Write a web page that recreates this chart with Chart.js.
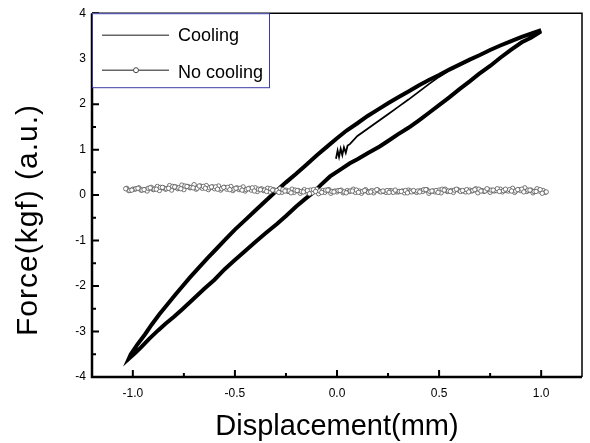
<!DOCTYPE html>
<html>
<head>
<meta charset="utf-8">
<script src="https://cdn.jsdelivr.net/npm/chart.js@4"></script>
<style>
  html, body { margin: 0; padding: 0; background: #fff; }
  #wrap { width: 590px; height: 443px; }
</style>
</head>
<body>
<div id="wrap"><canvas id="forceChart" width="590" height="443"></canvas></div>
<script>
// tick labels
const xTicks = [-1.0, -0.5, 0.0, 0.5, 1.0];
const xMinorTicks = [-0.75, -0.25, 0.25, 0.75];
const yTicks = [-4, -3, -2, -1, 0, 1, 2, 3, 4];
const yMinorTicks = [-3.5, -2.5, -1.5, -0.5, 0.5, 1.5, 2.5, 3.5];
const seriesNames = ['Cooling', 'No cooling'];

// cooling: hysteresis loop (top tip -> lower branch -> bottom tip -> upper branch -> top tip)
const coolingLoop = [
  [1.00,3.60],[0.95,3.46],[0.905,3.36],[0.85,3.19],[0.80,3.02],[0.75,2.84],[0.694,2.66],[0.65,2.50],
  [0.60,2.33],[0.55,2.15],[0.50,1.98],[0.451,1.81],[0.40,1.64],[0.35,1.48],[0.30,1.34],[0.25,1.19],
  [0.209,1.07],[0.15,0.92],[0.10,0.79],[0.063,0.70],[0.02,0.57],[-0.034,0.41],[-0.08,0.22],[-0.115,0.06],
  [-0.16,-0.10],[-0.20,-0.25],[-0.25,-0.46],[-0.293,-0.63],[-0.35,-0.84],[-0.40,-1.03],[-0.45,-1.23],
  [-0.503,-1.44],[-0.55,-1.63],[-0.60,-1.86],[-0.65,-2.06],[-0.714,-2.33],[-0.76,-2.52],[-0.80,-2.68],
  [-0.84,-2.83],[-0.875,-2.97],[-0.92,-3.16],[-0.96,-3.35],[-0.99,-3.48],[-1.02,-3.60],
  [-1.01,-3.50],[-0.98,-3.30],[-0.94,-3.06],[-0.908,-2.85],[-0.87,-2.62],[-0.83,-2.40],[-0.79,-2.18],
  [-0.762,-2.03],[-0.72,-1.81],[-0.68,-1.61],[-0.633,-1.38],[-0.59,-1.18],[-0.55,-0.99],[-0.50,-0.76],
  [-0.45,-0.55],[-0.40,-0.34],[-0.35,-0.13],[-0.30,0.08],[-0.25,0.28],[-0.20,0.47],[-0.15,0.67],
  [-0.10,0.87],[-0.05,1.06],[0.00,1.25],[0.047,1.42],[0.10,1.58],[0.15,1.74],[0.20,1.88],[0.25,2.02],
  [0.30,2.15],[0.35,2.28],[0.40,2.41],[0.45,2.53],[0.50,2.64],[0.55,2.76],[0.60,2.87],[0.65,2.98],
  [0.70,3.08],[0.75,3.19],[0.80,3.29],[0.85,3.38],[0.905,3.48],[0.95,3.55],[1.00,3.63]
];

// cooling: first loading from rest (jagged start near x = 0)
const coolingStart = [
  [-0.005,0.80],[0.003,0.98],[0.010,0.84],[0.018,1.02],[0.026,0.88],[0.034,1.05],[0.043,0.93],
  [0.052,1.09],[0.063,1.12],[0.10,1.30],[0.15,1.46],[0.20,1.62],[0.25,1.78],[0.30,1.94],
  [0.35,2.10],[0.40,2.27],[0.45,2.44],[0.50,2.60],[0.55,2.74]
];

// no cooling: four passes across the stroke
const noCoolingA = [
  [-1.03,0.15],[-1.00,0.13],[-0.97,0.16],[-0.94,0.12],[-0.91,0.17],[-0.88,0.19],[-0.85,0.16],[-0.82,0.21],
  [-0.79,0.18],[-0.76,0.22],[-0.73,0.19],[-0.70,0.23],[-0.67,0.20],[-0.64,0.21],[-0.61,0.18],[-0.58,0.20],
  [-0.55,0.17],[-0.52,0.19],[-0.49,0.16],[-0.46,0.18],[-0.43,0.15],[-0.40,0.16],[-0.37,0.14],[-0.34,0.15],
  [-0.31,0.12],[-0.28,0.14],[-0.25,0.11],[-0.22,0.13],[-0.19,0.10],[-0.16,0.12],[-0.13,0.11],[-0.10,0.13],
  [-0.07,0.10],[-0.04,0.12],[-0.01,0.09],[0.02,0.11],[0.05,0.10],[0.08,0.13],[0.11,0.09],[0.14,0.12],
  [0.17,0.10],[0.20,0.11],[0.23,0.08],[0.26,0.10],[0.29,0.07],[0.32,0.09],[0.35,0.11],[0.38,0.08],
  [0.41,0.10],[0.44,0.12],[0.47,0.09],[0.50,0.11],[0.53,0.13],[0.56,0.10],[0.59,0.12],[0.62,0.09],
  [0.65,0.11],[0.68,0.14],[0.71,0.10],[0.74,0.12],[0.77,0.09],[0.80,0.13],[0.83,0.10],[0.86,0.15],
  [0.89,0.12],[0.92,0.16],[0.95,0.11],[0.98,0.14],[1.01,0.10]
];
const noCoolingB = [
  [1.02,0.06],[0.99,0.09],[0.96,0.05],[0.93,0.08],[0.90,0.10],[0.87,0.06],[0.84,0.09],[0.81,0.07],
  [0.78,0.10],[0.75,0.06],[0.72,0.08],[0.69,0.05],[0.66,0.09],[0.63,0.07],[0.60,0.10],[0.57,0.06],
  [0.54,0.08],[0.51,0.05],[0.48,0.07],[0.45,0.04],[0.42,0.08],[0.39,0.06],[0.36,0.09],[0.33,0.05],
  [0.30,0.07],[0.27,0.09],[0.24,0.06],[0.21,0.08],[0.18,0.05],[0.15,0.07],[0.12,0.04],[0.09,0.06],
  [0.06,0.08],[0.03,0.05],[0.00,0.07],[-0.03,0.04],[-0.06,0.06],[-0.09,0.03],[-0.12,0.05],[-0.15,0.07],
  [-0.18,0.04],[-0.21,0.06],[-0.24,0.08],[-0.27,0.06],[-0.30,0.09],[-0.33,0.07],[-0.36,0.10],[-0.39,0.08],
  [-0.42,0.11],[-0.45,0.09],[-0.48,0.12],[-0.51,0.10],[-0.54,0.13],[-0.57,0.11],[-0.60,0.14],[-0.63,0.12],
  [-0.66,0.15],[-0.69,0.13],[-0.72,0.16],[-0.75,0.12],[-0.78,0.14],[-0.81,0.11],[-0.84,0.13],[-0.87,0.10],
  [-0.90,0.12],[-0.93,0.09],[-0.96,0.11],[-0.99,0.13],[-1.02,0.10]
];
const noCoolingC = [
  [-1.015,0.10],[-0.985,0.14],[-0.955,0.11],[-0.925,0.15],[-0.895,0.13],[-0.865,0.17],[-0.835,0.14],[-0.805,0.19],
  [-0.775,0.16],[-0.745,0.20],[-0.715,0.17],[-0.685,0.15],[-0.655,0.19],[-0.625,0.16],[-0.595,0.18],[-0.565,0.14],
  [-0.535,0.17],[-0.505,0.13],[-0.475,0.15],[-0.445,0.12],[-0.415,0.16],[-0.385,0.13],[-0.355,0.11],[-0.325,0.14],
  [-0.295,0.10],[-0.265,0.12],[-0.235,0.09],[-0.205,0.11],[-0.175,0.08],[-0.145,0.10],[-0.115,0.12],[-0.085,0.09],
  [-0.055,0.11],[-0.025,0.08],[0.005,0.10],[0.035,0.07],[0.065,0.09],[0.095,0.11],[0.125,0.08],[0.155,0.06],
  [0.185,0.09],[0.215,0.07],[0.245,0.10],[0.275,0.06],[0.305,0.08],[0.335,0.10],[0.365,0.07],[0.395,0.09],
  [0.425,0.12],[0.455,0.08],[0.485,0.10],[0.515,0.13],[0.545,0.09],[0.575,0.11],[0.605,0.08],[0.635,0.12],
  [0.665,0.10],[0.695,0.13],[0.725,0.09],[0.755,0.11],[0.785,0.14],[0.815,0.10],[0.845,0.12],[0.875,0.09],
  [0.905,0.13],[0.935,0.11],[0.965,0.08],[0.995,0.12],[1.025,0.07]
];
const noCoolingD = [
  [1.005,0.04],[0.975,0.08],[0.945,0.11],[0.915,0.07],[0.885,0.12],[0.855,0.09],[0.825,0.13],[0.795,0.08],
  [0.765,0.11],[0.735,0.14],[0.705,0.09],[0.675,0.12],[0.645,0.07],[0.615,0.10],[0.585,0.13],[0.555,0.08],
  [0.525,0.11],[0.495,0.06],[0.465,0.09],[0.435,0.12],[0.405,0.07],[0.375,0.10],[0.345,0.05],[0.315,0.08],
  [0.285,0.11],[0.255,0.06],[0.225,0.09],[0.195,0.12],[0.165,0.07],[0.135,0.10],[0.105,0.06],[0.075,0.09],
  [0.045,0.05],[0.015,0.10],[-0.015,0.07],[-0.045,0.11],[-0.075,0.06],[-0.105,0.08],[-0.135,0.03],[-0.165,0.07],
  [-0.195,0.10],[-0.225,0.05],[-0.255,0.09],[-0.285,0.06],[-0.315,0.11],[-0.345,0.08],[-0.375,0.12],[-0.405,0.09],
  [-0.435,0.14],[-0.465,0.11],[-0.495,0.15],[-0.525,0.12],[-0.555,0.17],[-0.585,0.13],[-0.615,0.18],[-0.645,0.15],
  [-0.675,0.20],[-0.705,0.16],[-0.735,0.19],[-0.765,0.14],[-0.795,0.18],[-0.825,0.15],[-0.855,0.17],[-0.885,0.13],
  [-0.915,0.16],[-0.945,0.12],[-0.975,0.15],[-1.005,0.11],[-1.035,0.14]
];

const FONT = "'Liberation Sans', Arial, sans-serif";
const toXY = arr => arr.map(p => ({ x: p[0], y: p[1] }));

// axis box with inward ticks, Origin style
const frame = {
  id: 'frame',
  afterDatasetsDraw(chart) {
    const { ctx, chartArea: a, scales: { x, y } } = chart;
    ctx.save();
    ctx.strokeStyle = '#000';
    ctx.lineWidth = 1.5;
    ctx.beginPath();
    ctx.moveTo(a.left, a.top); ctx.lineTo(a.right, a.top); ctx.lineTo(a.right, a.bottom);
    ctx.stroke();
    ctx.lineWidth = 2.5;
    ctx.beginPath();
    ctx.moveTo(a.left, a.top); ctx.lineTo(a.left, a.bottom); ctx.lineTo(a.right, a.bottom);
    ctx.stroke();
    ctx.lineWidth = 2;
    ctx.beginPath();
    xTicks.forEach(v => { const px = x.getPixelForValue(v); ctx.moveTo(px, a.bottom); ctx.lineTo(px, a.bottom - 7); });
    xMinorTicks.forEach(v => { const px = x.getPixelForValue(v); ctx.moveTo(px, a.bottom); ctx.lineTo(px, a.bottom - 4); });
    yTicks.forEach(v => { const py = y.getPixelForValue(v); ctx.moveTo(a.left, py); ctx.lineTo(a.left + 7, py); });
    yMinorTicks.forEach(v => { const py = y.getPixelForValue(v); ctx.moveTo(a.left, py); ctx.lineTo(a.left + 4, py); });
    ctx.stroke();
    ctx.restore();
  },
  afterDraw(chart) {
    const { ctx, chartArea: a } = chart;
    ctx.save();
    // y title, sits a bit below the plot centre
    ctx.fillStyle = '#000';
    ctx.font = '30px ' + FONT;
    ctx.letterSpacing = '1px';
    ctx.textAlign = 'center';
    ctx.textBaseline = 'middle';
    ctx.translate(29, 220);
    ctx.rotate(-Math.PI / 2);
    ctx.fillText('Force(kgf) (a.u.)', 0, 0);
    ctx.restore();

    // legend box in upper-left corner
    ctx.save();
    const bx = a.left, by = a.top, bw = 177, bh = 74;
    ctx.fillStyle = '#fff';
    ctx.fillRect(bx, by, bw, bh);
    ctx.strokeStyle = '#3a3aa8';
    ctx.lineWidth = 1;
    ctx.strokeRect(bx + 0.5, by + 0.5, bw, bh);
    ctx.strokeStyle = '#666';
    ctx.lineWidth = 1.5;
    const rows = [22, 57];
    rows.forEach(dy => {
      ctx.beginPath();
      ctx.moveTo(bx + 10, by + dy); ctx.lineTo(bx + 77, by + dy);
      ctx.stroke();
    });
    ctx.beginPath();
    ctx.arc(bx + 44, by + rows[1], 2.5, 0, Math.PI * 2);
    ctx.fillStyle = '#fff';
    ctx.fill();
    ctx.lineWidth = 1;
    ctx.strokeStyle = '#444';
    ctx.stroke();
    ctx.fillStyle = '#000';
    ctx.font = '18px ' + FONT;
    ctx.textAlign = 'left';
    ctx.textBaseline = 'middle';
    ctx.fillText(seriesNames[0], bx + 86, by + rows[0] + 1);
    ctx.fillText(seriesNames[1], bx + 86, by + rows[1] + 3);
    ctx.restore();
  }
};

const ctx = document.getElementById('forceChart').getContext('2d');
new Chart(ctx, {
  type: 'scatter',
  data: {
    datasets: [
      { label: seriesNames[1], data: toXY(noCoolingA.concat(noCoolingB, noCoolingC, noCoolingD)), showLine: true,
        borderColor: '#999', borderWidth: 0.8, pointRadius: 2.2, pointBorderWidth: 0.8,
        pointBorderColor: '#555', pointBackgroundColor: '#fff' },
      { label: seriesNames[0], data: toXY(coolingLoop), showLine: true, borderColor: '#000',
        borderWidth: 4, pointRadius: 0, tension: 0, borderJoinStyle: 'miter' },
      { label: seriesNames[0] + ' start', data: toXY(coolingStart), showLine: true, borderColor: '#000',
        borderWidth: 1.8, pointRadius: 0, tension: 0 }
    ]
  },
  options: {
    responsive: false,
    animation: false,
    layout: { padding: { top: 13, right: 8, left: 0, bottom: 0 } },
    plugins: { legend: { display: false }, tooltip: { enabled: false } },
    scales: {
      x: {
        type: 'linear', min: -1.2, max: 1.2,
        afterBuildTicks: s => { s.ticks = xTicks.map(v => ({ value: v })); },
        afterFit: s => { s.height = 66; },
        grid: { display: false, drawTicks: false },
        border: { display: false },
        ticks: { padding: 9, color: '#000', font: { family: FONT, size: 12 },
                 maxRotation: 0, callback: v => Number(v).toFixed(1) },
        title: { display: true, text: 'Displacement(mm)', color: '#000',
                 font: { family: FONT, size: 29, lineHeight: 1.1 }, padding: { top: 0, bottom: 0 } }
      },
      y: {
        type: 'linear', min: -4, max: 4,
        afterBuildTicks: s => { s.ticks = yTicks.map(v => ({ value: v })); },
        afterFit: s => { s.width = 92; },
        grid: { display: false, drawTicks: false },
        border: { display: false },
        ticks: { padding: 6, color: '#000', font: { family: FONT, size: 12 } },
        title: { display: false }
      }
    }
  },
  plugins: [frame]
});
</script>
</body>
</html>
